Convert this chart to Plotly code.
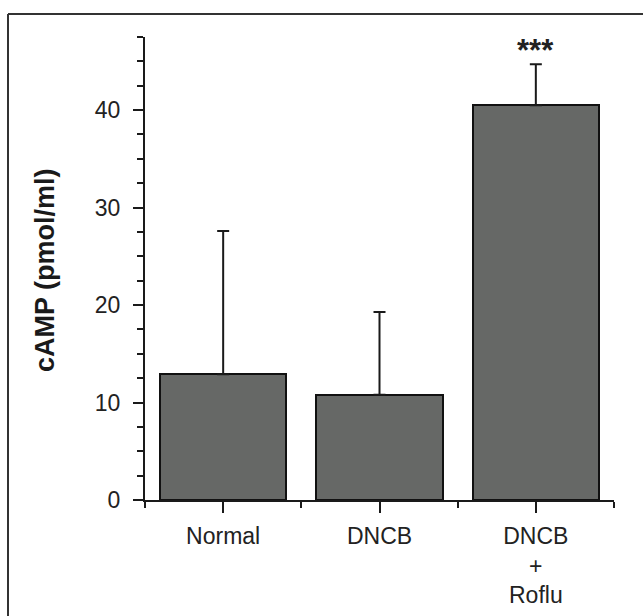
import plotly.graph_objects as go

categories = ["Normal", "DNCB", "DNCB<br>+<br>Roflu"]
means = [12.9, 10.8, 40.5]
errors_up = [14.7, 8.5, 4.2]
significance = ["", "", "***"]
y_tick_vals = [0, 10, 20, 30, 40]

W, H = 643, 616
L, R, T, B = 145, 29, 37, 116
pw, ph = W - L - R, H - T - B

def px_x(p):
    return (p - L) / pw

def px_y(p):
    return (H - B - p) / ph

FONT = "Arial, Liberation Sans, sans-serif"
xs = list(range(len(categories)))

fig = go.Figure()
fig.add_trace(go.Bar(
    x=xs, y=means, width=0.81,
    marker=dict(color="#666866", line=dict(color="#111111", width=2)),
    error_y=dict(type="data", symmetric=False, array=errors_up,
                 arrayminus=[0] * len(means), color="#1a1a1a",
                 thickness=2, width=6),
    showlegend=False,
))

for i, s in enumerate(significance):
    if s:
        fig.add_annotation(x=xs[i], y=means[i] + errors_up[i], text="<b>" + s + "</b>",
                           showarrow=False, yanchor="bottom", yshift=-6,
                           font=dict(family=FONT, size=31, color="#222222"))

fig.add_annotation(xref="paper", yref="paper", x=px_x(45), y=px_y(270),
                   text="<b>cAMP (pmol/ml)</b>", textangle=-90, showarrow=False,
                   xanchor="center", yanchor="middle",
                   font=dict(family=FONT, size=27, color="#1a1a1a"))

# frame lines (top and left edges)
fig.add_shape(type="line", xref="paper", yref="paper",
              x0=px_x(8), x1=px_x(643), y0=px_y(14), y1=px_y(14),
              line=dict(color="#333333", width=2))
fig.add_shape(type="line", xref="paper", yref="paper",
              x0=px_x(8), x1=px_x(8), y0=px_y(14), y1=px_y(616),
              line=dict(color="#333333", width=2))

fig.update_layout(
    width=W, height=H,
    margin=dict(l=L, r=R, t=T, b=B, pad=0, autoexpand=False),
    paper_bgcolor="white", plot_bgcolor="white",
    font=dict(family=FONT, size=23, color="#222222"),
    bargap=0,
)
fig.update_xaxes(
    range=[-0.5, 2.5], tickvals=xs, ticktext=categories, automargin=False,
    showline=True, linecolor="#1a1a1a", linewidth=2,
    ticks="outside", ticklen=11, tickwidth=2, tickcolor="#1a1a1a",
    showgrid=False, zeroline=False, ticklabelstandoff=3,
    tickfont=dict(family=FONT, size=23, color="#222222"),
    minor=dict(tickvals=[-0.5, 0.5, 1.5, 2.5], ticks="outside", ticklen=6,
               tickwidth=2, tickcolor="#1a1a1a"),
)
fig.update_yaxes(
    range=[0, 47.5], tickvals=y_tick_vals, automargin=False,
    showline=True, linecolor="#1a1a1a", linewidth=2,
    ticks="outside", ticklen=10, tickwidth=2, tickcolor="#1a1a1a",
    showgrid=False, zeroline=False, ticklabelstandoff=8,
    tickfont=dict(family=FONT, size=23, color="#222222"),
    minor=dict(dtick=2.5, tick0=0, ticks="outside", ticklen=6,
               tickwidth=2, tickcolor="#1a1a1a", showgrid=False),
)

fig.write_html("out.html")
